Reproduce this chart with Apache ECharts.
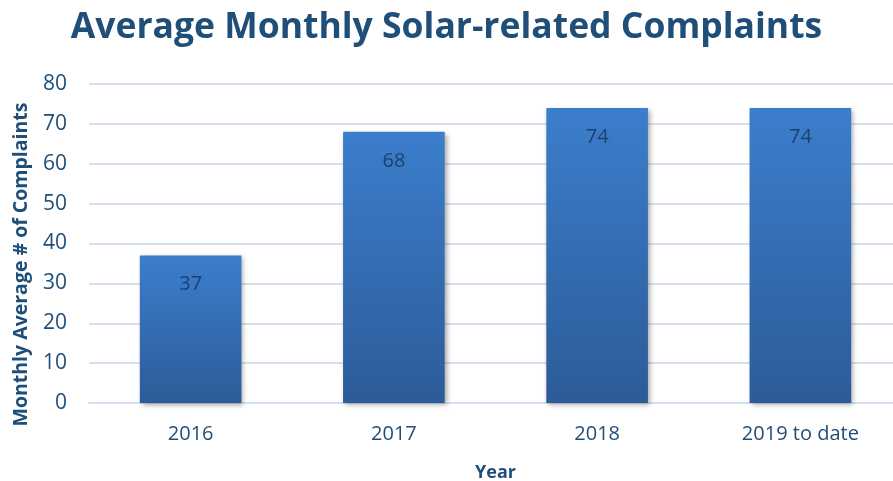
<!DOCTYPE html>
<html>
<head>
<meta charset="utf-8">
<script src="https://cdn.jsdelivr.net/npm/echarts@6/dist/echarts.min.js"></script>
<style>
  html, body { margin: 0; padding: 0; background: #fff; }
  #chart { width: 893px; height: 481px; }
</style>
</head>
<body>
<div id="chart"></div>
<script>
// chart data
var years = ['2016', '2017', '2018', '2019 to date'];
var complaints = [37, 68, 74, 74];
var yTicks = [0, 10, 20, 30, 40, 50, 60, 70, 80];

var textBlue = '#1F4E79';
var fontFam = '"Open Sans", "Noto Sans", sans-serif';

var chart = echarts.init(document.getElementById('chart'));

chart.setOption({
  animation: false,
  title: {
    text: 'Average Monthly Solar-related Complaints',
    left: 'center',
    top: 5,
    textStyle: {
      fontFamily: fontFam,
      fontSize: 35.5,
      fontWeight: 'bold',
      color: textBlue
    }
  },
  grid: {
    left: 89,
    width: 813,
    top: 84,
    height: 319,
    containLabel: false,
    outerBoundsMode: 'none'
  },
  xAxis: {
    type: 'category',
    data: years,
    name: 'Year',
    nameLocation: 'middle',
    nameGap: 61,
    nameTextStyle: {
      fontFamily: fontFam,
      fontSize: 18,
      fontWeight: 'bold',
      color: textBlue
    },
    axisLine: { lineStyle: { color: '#D5E0EF', width: 2 } },
    axisTick: { show: false },
    axisLabel: {
      margin: 21,
      fontFamily: fontFam,
      fontSize: 20,
      color: textBlue
    }
  },
  yAxis: {
    type: 'value',
    min: yTicks[0],
    max: yTicks[yTicks.length - 1],
    interval: 10,
    name: 'Monthly Average # of Complaints',
    nameLocation: 'middle',
    nameGap: 58,
    nameTextStyle: {
      fontFamily: fontFam,
      fontSize: 19.5,
      fontWeight: 'bold',
      color: textBlue,
      padding: [0, 42, 0, 0]
    },
    axisLine: { show: false },
    axisTick: { show: false },
    splitLine: { lineStyle: { color: '#D5E0EF', width: 2 } },
    axisLabel: {
      margin: 22,
      fontFamily: fontFam,
      fontSize: 21,
      color: textBlue
    }
  },
  series: [{
    type: 'bar',
    data: complaints,
    barWidth: '50%',
    itemStyle: {
      color: new echarts.graphic.LinearGradient(0, 0, 0, 1, [
        { offset: 0, color: '#3B7ECC' },
        { offset: 1, color: '#2D5B98' }
      ]),
      shadowColor: 'rgba(0,0,0,0.35)',
      shadowBlur: 5,
      shadowOffsetX: 2,
      shadowOffsetY: 2
    },
    label: {
      show: true,
      position: 'insideTop',
      distance: 19,
      fontFamily: fontFam,
      fontSize: 20,
      color: '#1F3F6E'
    }
  }]
});
</script>
</body>
</html>
